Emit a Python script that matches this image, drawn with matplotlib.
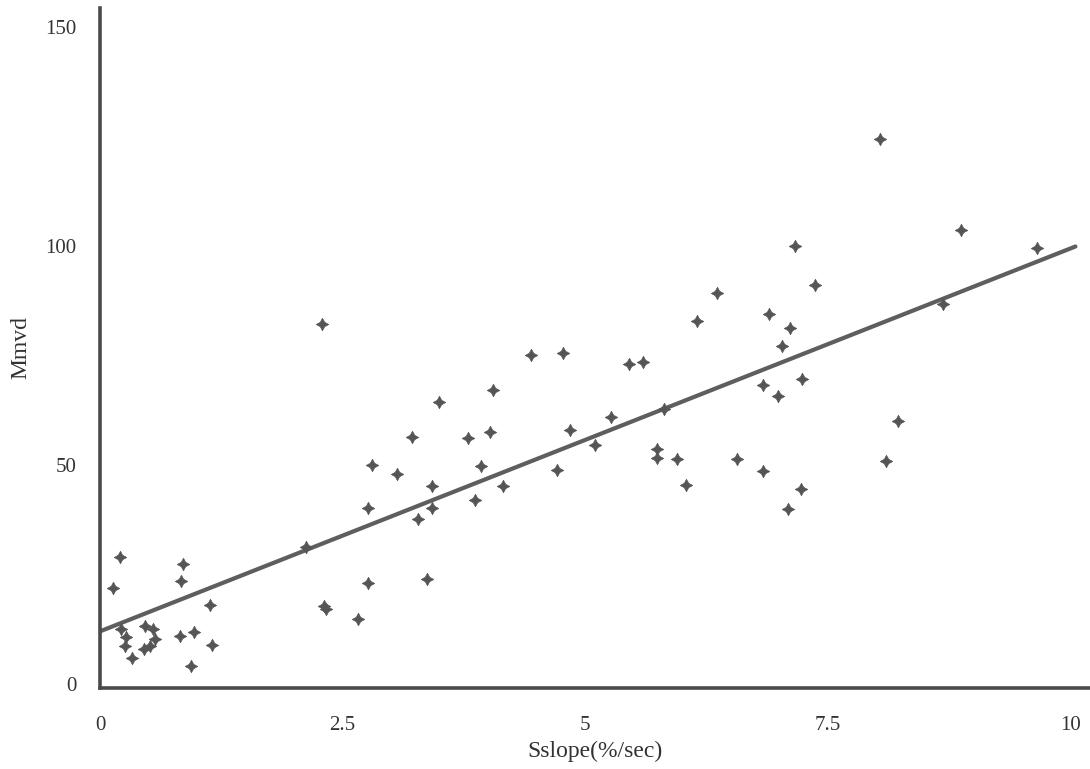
import numpy as np
import matplotlib
matplotlib.use("Agg")
import matplotlib.pyplot as plt

# scatter values
sslope = [0.13, 0.21, 0.22, 0.27, 0.26, 0.33, 0.46, 0.55, 0.57, 0.45, 0.52,
          0.86, 0.83, 1.13, 0.82, 0.97, 1.15, 0.94,
          2.12, 2.29, 2.31, 2.33, 2.66, 2.76, 2.76, 2.80, 3.06, 3.22, 3.28,
          3.37, 3.42, 3.42, 3.49, 3.79, 3.86, 3.93, 4.02, 4.05, 4.15,
          4.44, 4.71, 4.77, 4.84, 5.10, 5.26, 5.45, 5.59, 5.74, 5.74, 5.81,
          5.94, 6.04, 6.15, 6.36, 6.56, 6.83, 6.83, 6.89, 6.99, 7.03, 7.09,
          7.11, 7.16, 7.22, 7.23, 7.37, 8.04, 8.10, 8.22, 8.69, 8.87, 9.65]
mmvd = [21.8, 29.0, 12.5, 10.6, 8.7, 6.0, 13.3, 12.5, 10.2, 7.9, 8.7,
        27.4, 23.6, 18.0, 11.0, 11.9, 8.9, 4.0,
        31.2, 82.3, 17.8, 17.2, 14.8, 23.0, 40.3, 49.9, 48.0, 56.4, 37.7,
        24.0, 45.3, 40.2, 64.4, 56.1, 42.0, 49.7, 57.5, 67.2, 45.3,
        75.2, 48.9, 75.6, 57.9, 54.6, 61.0, 73.2, 73.5, 53.7, 51.6, 62.9,
        51.4, 45.5, 82.8, 89.2, 51.4, 68.2, 48.7, 84.6, 65.7, 77.3, 40.0,
        81.2, 100.0, 44.6, 69.6, 91.1, 124.6, 51.0, 60.0, 86.7, 103.8, 99.7]

# regression line as drawn
fit_intercept = 12.0
fit_slope = 8.75
fit_range = [0.0, 10.05]

xticks = [0, 2.5, 5, 7.5, 10]
xtick_labels = ["0", "2.5", "5", "7.5", "10"]
yticks = [0, 50, 100, 150]
ytick_labels = ["0", "50", "100", "150"]


def main():
    plt.rcParams["font.family"] = ["Liberation Serif", "DejaVu Serif"]
    fig = plt.figure(figsize=(10.9, 7.69), dpi=100)
    ax = fig.add_axes([0.0917, 0.105, 0.9083, 0.885])

    ink = "#4a4a4a"
    ax.scatter(sslope, mmvd, marker=(4, 1, 0), s=80, color="#555555",
               linewidths=0.5, edgecolors="#555555", zorder=3)

    xl = np.array(fit_range)
    ax.plot(xl, fit_intercept + fit_slope * xl, color="#5e5e5e", lw=3.0,
            solid_capstyle="round", zorder=2)

    ax.set_xlim(0, 10.2)
    ax.set_ylim(-1, 154.5)
    ax.set_xticks(xticks, xtick_labels)
    ax.set_yticks(yticks, ytick_labels)
    ax.tick_params(length=0, pad=20, labelsize=15, colors="#333333")
    ax.tick_params(axis="y", pad=17)

    for side in ("top", "right"):
        ax.spines[side].set_visible(False)
    for side in ("left", "bottom"):
        ax.spines[side].set_linewidth(2.6)
        ax.spines[side].set_color(ink)

    ax.set_xlabel("Sslope(%/sec)", fontsize=17, color="#333333", labelpad=4)
    ax.set_ylabel("Mmvd", fontsize=17, color="#333333", labelpad=10)

    fig.savefig("out.png", dpi=100)


if __name__ == "__main__":
    main()
